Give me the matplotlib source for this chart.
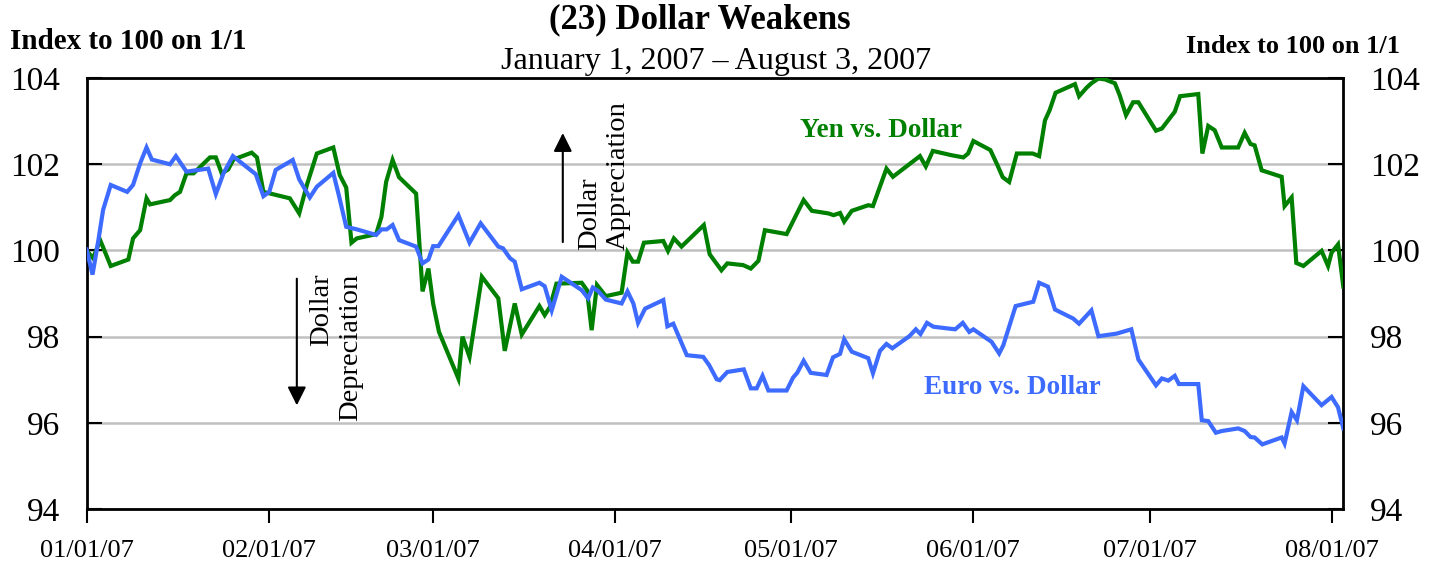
import matplotlib
matplotlib.use("Agg")
import matplotlib.pyplot as plt
import numpy as np
import datetime as dt

# Day offsets from 2007-01-01 and index values
yen_days = [0, 1.1, 2.3, 4.1, 7.1, 7.9, 9.1, 10.2, 10.8, 14.2, 15.0, 15.9, 17.0, 18.2,
            21.0, 22.0, 23.0, 24.1, 25.0, 28.1, 29.0, 30.1, 34.6, 36.2, 37.5, 39.2,
            42.0, 43.1, 44.2, 45.1, 46.0, 49.3, 50.2, 51.0, 52.1, 53.2, 56.1, 57.2,
            58.2, 59.0, 60.0, 63.3, 64.0, 65.2, 67.3, 70.1, 71.2, 72.9, 74.1, 77.1,
            78.0, 78.9, 80.0, 84.3, 85.2, 86.0, 86.9, 88.4, 91.1, 92.1, 93.0, 93.9,
            94.9, 98.2, 99.0, 100.0, 101.3, 105.1, 106.1, 108.1, 109.1, 111.8, 113.1,
            114.4, 115.5, 119.2, 122.1, 123.5, 126.3, 127.2, 128.3, 129.0, 130.3,
            133.1, 133.9, 136.2, 137.3, 141.9, 142.9, 144.1, 147.3, 149.3, 150.1,
            151.0, 153.9, 155.1, 156.0, 157.1, 158.4, 161.1, 162.2, 163.2, 164.0,
            165.0, 168.3, 169.0, 170.3, 171.1, 172.3, 173.4, 175.1, 175.9, 177.0,
            178.2, 179.1, 182.1, 183.1, 185.3, 186.2, 189.3, 190.0, 191.0, 192.1,
            193.3, 196.1, 197.2, 198.2, 198.9, 200.1, 203.5, 204.0, 205.2, 206.0,
            207.2, 210.3, 211.4, 212.0, 213.1, 214.0]
yen_vals = [100.00, 99.82, 100.24, 99.64, 99.79, 100.28, 100.47, 101.21, 101.07, 101.17,
            101.28, 101.36, 101.79, 101.79, 102.16, 102.16, 101.79, 101.88, 102.11,
            102.27, 102.16, 101.36, 101.21, 100.86, 101.52, 102.25, 102.39, 101.75,
            101.46, 100.18, 100.28, 100.38, 100.78, 101.59, 102.10, 101.70, 101.32,
            99.05, 99.58, 98.77, 98.11, 97.03, 98.00, 97.53, 99.39, 98.89, 97.67,
            98.77, 98.05, 98.71, 98.50, 98.69, 99.23, 99.25, 99.08, 98.15, 99.20,
            98.94, 99.02, 99.95, 99.74, 99.74, 100.18, 100.22, 99.99, 100.28, 100.09,
            100.59, 99.91, 99.54, 99.70, 99.66, 99.58, 99.76, 100.47, 100.38, 101.17,
            100.92, 100.86, 100.82, 100.87, 100.67, 100.92, 101.05, 101.03, 101.90,
            101.71, 102.19, 101.95, 102.31, 102.21, 102.16, 102.25, 102.54, 102.33,
            101.98, 101.70, 101.59, 102.25, 102.25, 102.19, 103.02, 103.26, 103.66,
            103.86, 103.58, 103.78, 103.88, 103.99, 103.97, 103.88, 103.61, 103.14,
            103.44, 103.44, 102.78, 102.83, 103.22, 103.58, 103.63, 102.25, 102.89,
            102.79, 102.39, 102.39, 102.73, 102.47, 102.44, 101.86, 101.71, 101.03,
            101.23, 99.71, 99.64, 99.99, 99.64, 99.95, 100.14, 99.16]

euro_days = [0, 1.0, 2.0, 2.8, 4.1, 6.9, 7.9, 9.1, 10.2, 11.1, 14.2, 15.2, 17.0, 20.7,
             22.0, 23.3, 24.9, 28.8, 30.1, 31.1, 32.2, 35.1, 36.2, 38.0, 39.2, 42.0,
             43.0, 44.2, 46.0, 49.3, 50.2, 51.1, 52.1, 53.2, 56.1, 57.2, 58.2, 59.0,
             59.9, 63.3, 65.2, 67.1, 70.1, 70.9, 72.1, 72.9, 74.1, 77.1, 78.0, 79.2,
             80.9, 84.3, 85.4, 86.2, 87.1, 88.4, 91.1, 92.1, 93.1, 93.9, 95.1, 98.2,
             98.9, 99.9, 102.2, 105.0, 106.0, 107.3, 107.8, 109.1, 111.9, 113.1,
             114.1, 115.1, 116.1, 119.2, 120.3, 121.0, 122.1, 123.3, 126.0, 127.1,
             128.3, 129.0, 130.3, 133.1, 133.9, 135.1, 136.2, 137.2, 140.1, 141.2,
             142.0, 143.1, 144.2, 147.9, 149.2, 150.3, 151.0, 154.1, 155.4, 156.1,
             158.2, 161.2, 162.2, 163.7, 164.9, 168.0, 169.0, 171.1, 172.3, 175.4,
             176.4, 177.9, 179.1, 182.1, 183.1, 184.2, 185.3, 186.0, 189.3, 189.9,
             191.0, 192.3, 193.3, 196.1, 197.2, 198.2, 198.9, 200.2, 203.5, 204.0,
             205.2, 206.1, 207.2, 210.3, 212.0, 213.1, 214.0]
euro_vals = [100.02, 99.44, 100.24, 100.94, 101.52, 101.36, 101.52, 102.02, 102.39,
             102.11, 102.00, 102.19, 101.83, 101.90, 101.31, 101.79, 102.19, 101.77,
             101.26, 101.36, 101.87, 102.10, 101.65, 101.23, 101.48, 101.80, 101.25,
             100.55, 100.49, 100.36, 100.49, 100.49, 100.59, 100.24, 100.09, 99.70,
             99.79, 100.10, 100.10, 100.82, 100.18, 100.63, 100.09, 100.05, 99.82,
             99.74, 99.10, 99.25, 99.17, 98.61, 99.39, 99.08, 98.89, 99.14, 99.06,
             98.86, 98.77, 99.05, 98.77, 98.32, 98.65, 98.85, 98.24, 98.30, 97.57,
             97.53, 97.34, 97.01, 96.99, 97.18, 97.24, 96.80, 96.80, 97.09, 96.75,
             96.75, 97.05, 97.16, 97.44, 97.16, 97.11, 97.52, 97.60, 97.94, 97.65,
             97.50, 97.15, 97.67, 97.83, 97.73, 98.01, 98.17, 98.06, 98.32, 98.23,
             98.17, 98.32, 98.11, 98.17, 97.88, 97.61, 97.80, 98.71, 98.81, 99.25,
             99.16, 98.63, 98.42, 98.30, 98.61, 98.01, 98.07, 98.11, 98.17, 97.47,
             96.87, 97.03, 96.98, 97.09, 96.90, 96.90, 96.06, 96.04, 95.77, 95.81,
             95.87, 95.81, 95.67, 95.66, 95.50, 95.66, 95.52, 96.25, 96.06, 96.85,
             96.41, 96.60, 96.36, 95.87]

tick_labels = ["01/01/07", "02/01/07", "03/01/07", "04/01/07",
               "05/01/07", "06/01/07", "07/01/07", "08/01/07"]
y_ticks = [94, 96, 98, 100, 102, 104]

start = dt.datetime(2007, 1, 1)
yen_dates = [start + dt.timedelta(days=d) for d in yen_days]
euro_dates = [start + dt.timedelta(days=d) for d in euro_days]
tick_dates = [dt.datetime.strptime(s, "%m/%d/%y") for s in tick_labels]

GREEN = "#008000"
BLUE = "#3D6BFF"
SERIF = ["Liberation Serif", "DejaVu Serif"]

fig = plt.figure(figsize=(14.37, 5.66), dpi=100)
ax = fig.add_axes([0.0603, 0.1007, 0.8745, 0.7613])

ax.plot(yen_dates, yen_vals, color=GREEN, lw=3.0, solid_joinstyle="miter", zorder=3)
ax.plot(euro_dates, euro_vals, color=BLUE, lw=3.0, solid_joinstyle="miter", zorder=4)

ax.set_xlim(start, dt.datetime(2007, 8, 3))
ax.set_ylim(94, 104)
ax.set_yticks(y_ticks)
ax.set_yticklabels([str(v) for v in y_ticks], fontsize=24, family=SERIF)
ax.set_xticks(tick_dates)
ax.set_xticklabels(tick_labels, fontsize=19, family=SERIF)
ax.tick_params(axis="y", direction="in", length=11, width=1.5, pad=19,
               left=True, right=True, labelleft=True, labelright=True)
ax.tick_params(axis="x", direction="out", length=10, width=1.5, pad=12)
ax.grid(axis="y", color="#c0c0c0", lw=1.8, zorder=1)
for s in ax.spines.values():
    s.set_linewidth(2.0)

# Titles
fig.text(0.4868, 0.9647, "(23) Dollar Weakens", ha="center", va="center",
         fontsize=25, fontweight="bold", family=SERIF)
fig.text(0.4985, 0.8905, "January 1, 2007 \u2013 August 3, 2007", ha="center", va="center",
         fontsize=23, family=SERIF)
fig.text(0.007, 0.9258, "Index to 100 on 1/1", ha="left", va="center",
         fontsize=21, fontweight="bold", family=SERIF)
fig.text(0.9745, 0.917, "Index to 100 on 1/1", ha="right", va="center",
         fontsize=19, fontweight="bold", family=SERIF)

# Series labels
ax.text(dt.datetime(2007, 5, 2, 12), 102.79, "Yen vs. Dollar", color=GREEN,
        fontsize=19.5, fontweight="bold", family=SERIF, ha="left", va="center")
ax.text(dt.datetime(2007, 5, 23, 16), 96.83, "Euro vs. Dollar", color=BLUE,
        fontsize=19.5, fontweight="bold", family=SERIF, ha="left", va="center")

# Arrows and rotated annotations
ax.annotate("", xy=(dt.datetime(2007, 2, 5, 19), 96.34), xytext=(dt.datetime(2007, 2, 5, 19), 99.41),
            arrowprops=dict(arrowstyle="-|>", color="black", lw=1.5, mutation_scale=28))
ax.text(dt.datetime(2007, 2, 12, 11), 97.76, "Dollar\nDepreciation", rotation=90,
        ha="center", va="center", multialignment="right", fontsize=20.5, family=SERIF,
        linespacing=1.2)
ax.annotate("", xy=(dt.datetime(2007, 3, 23, 2), 102.79), xytext=(dt.datetime(2007, 3, 23, 2), 100.13),
            arrowprops=dict(arrowstyle="-|>", color="black", lw=1.5, mutation_scale=28))
ax.text(dt.datetime(2007, 3, 30, 2), 101.73, "Dollar\nAppreciation", rotation=90,
        ha="center", va="center", multialignment="left", fontsize=20.5, family=SERIF,
        linespacing=1.2)

fig.savefig("out.png", dpi=100)
